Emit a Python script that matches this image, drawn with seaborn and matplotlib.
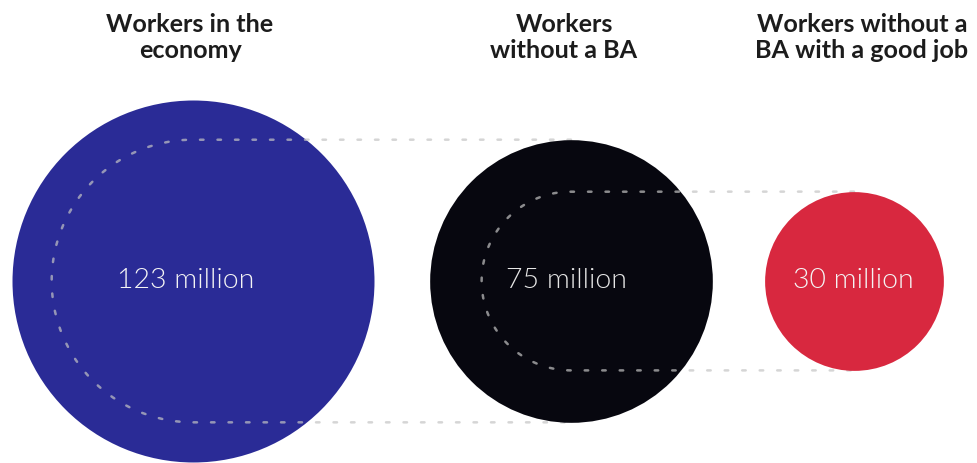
import numpy as np
import pandas as pd
import matplotlib
matplotlib.use("Agg")
import matplotlib.pyplot as plt
import seaborn as sns

# Worker counts (millions) shown as circles whose area follows the value
titles = ["Workers in the\neconomy", "Workers\nwithout a BA", "Workers without a\nBA with a good job"]
values = [123, 75, 30]
value_labels = ["123 million", "75 million", "30 million"]
colors = ["#2a2b96", "#07070f", "#d8283f"]

sns.set_theme(style="white")
plt.rcParams["font.family"] = ["Lato", "DejaVu Sans"]

W, H, DPI = 977, 463, 100
fig = plt.figure(figsize=(W / DPI, H / DPI), dpi=DPI)
fig.patch.set_facecolor("white")
ax = fig.add_axes([0, 0, 1, 1])
ax.set_xlim(0, W)
ax.set_ylim(H, 0)
ax.axis("off")

# layout in pixel units
centers_x = [193, 571, 854]
center_y = 281
title_x = [190, 564, 862]
label_x = [186, 566, 853]
R_MAX = 181.0  # radius of the largest circle in pixels
vmax = max(values)

radii = [R_MAX * np.sqrt(v / vmax) for v in values]
df = pd.DataFrame({"label": value_labels, "value": values,
                   "cx": centers_x, "cy": [center_y] * 3, "color": colors})

# marker area (pt^2) for the largest circle, others scale linearly with value
diam_pt = 2 * R_MAX * 72 / DPI
S_MAX = diam_pt ** 2

dash_color = "#c4c4c4"
for i, row in df.iterrows():
    z = 2 * i + 1
    sns.scatterplot(data=df.iloc[[i]], x="cx", y="cy", size="value",
                    sizes=(0, S_MAX), size_norm=(0, vmax),
                    color=row["color"], linewidth=0, legend=False,
                    ax=ax, zorder=z)
    txt_col = "#f4f4f4" if i != 1 else "#e6e6e6"
    ax.text(label_x[i], center_y - 1, row["label"],
            ha="center", va="center", fontsize=20.5, fontweight=300,
            color=txt_col, zorder=10)
    ax.text(title_x[i], 37.5, titles[i], ha="center", va="center",
            fontsize=18.1, fontweight="bold", color="#1c1c1c",
            linespacing=1.2)

    # dashed outline of the next circle, carried over as tangent lines
    if i + 1 < len(df):
        r = radii[i + 1]
        cx = row["cx"]
        nx = df.loc[i + 1, "cx"]
        theta = np.linspace(-np.pi / 2, -3 * np.pi / 2, 200)
        arc_x = cx + r * np.cos(theta)
        arc_y = center_y + r * np.sin(theta)
        path_x = np.concatenate([[nx], arc_x, [nx]])
        path_y = np.concatenate([[center_y - r], arc_y, [center_y + r]])
        ax.plot(path_x, path_y, color=dash_color, alpha=0.7, lw=1.8,
                dashes=(1.4, 5.6), solid_capstyle="round",
                dash_capstyle="round", zorder=z + 0.5)

fig.savefig("out.png", dpi=DPI, facecolor="white")
